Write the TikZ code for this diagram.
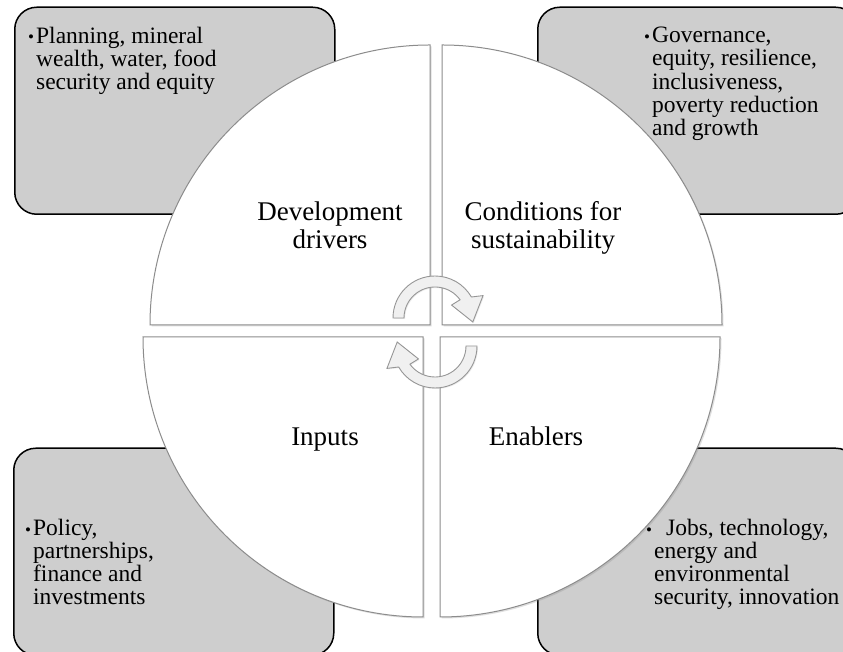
\documentclass[tikz,border=0pt]{standalone}
\usepackage{fontspec}
\setmainfont{Liberation Serif}
\usetikzlibrary{shadows}

\definecolor{boxgray}{RGB}{206,206,206}
\definecolor{quadline}{RGB}{140,140,140}
\definecolor{arrowfill}{RGB}{240,240,240}
\definecolor{arrowline}{RGB}{150,150,150}

\tikzset{
  infobox/.style={draw=black, line width=1.5pt, fill=boxgray, rounded corners=22pt,
    minimum width=320pt, minimum height=207pt, anchor=south west, inner sep=0pt},
  boxtext/.style={anchor=north west, inner sep=0pt, font=\fontsize{23.5}{22.5}\selectfont},
  quadtext/.style={align=center, inner sep=0pt, font=\fontsize{27}{28}\selectfont},
  quadpart/.style={draw=quadline, line width=1pt, fill=white,
    drop shadow={opacity=0.25, shadow xshift=1.5pt, shadow yshift=-1.5pt}},
  cyclepart/.style={draw=arrowline, line width=0.9pt, fill=arrowfill,
    drop shadow={opacity=0.15, shadow xshift=1pt, shadow yshift=-1pt}},
}

\NewDocumentCommand{\quadrant}{mm}{%
\begin{scope}[shift={#1}]%
\path[quadpart] (0,0) -- (#2:280) arc[start angle=#2, end angle=#2+90, radius=280] -- cycle;
\end{scope}%
}
\NewDocumentCommand{\cyclearrow}{mm}{%
\begin{scope}[shift={#1}, rotate=#2]%
\path[cyclepart] (180:42) arc[start angle=180, end angle=30, radius=42]
  -- (25:53) -- (-6:38) -- (38:21) -- (36:31)
  arc[start angle=36, end angle=180, radius=31] -- cycle;
\end{scope}%
}
\NewDocumentCommand{\dotitem}{}{\raisebox{0.5pt}{\fontsize{17}{17}\selectfont\textbullet}}

\begin{document}
\begin{tikzpicture}[x=1pt, y=1pt]
        \fill[white] (0,0) rectangle (843,652);
        \useasboundingbox (0,0) rectangle (843,652);

        % Boxes.
        \node[infobox] (drvbox) at (14,437) {};
        \node[infobox] (condbox) at (537,437) {};
        \node[infobox] (inpbox) at (13,-4) {};
        \node[infobox] (enabbox) at (537,-4) {};

        \node[boxtext] (drvtext) at (28,625) {\begin{tabular}{@{}l@{\hspace{2pt}}l@{}}
          \dotitem & Planning, mineral\\ & wealth, water, food\\ & security and equity\end{tabular}};
        \node[boxtext] (condtext) at (644,625) {\begin{tabular}{@{}l@{\hspace{2pt}}l@{}}
          \dotitem & Governance,\\ & equity, resilience,\\ & inclusiveness,\\
          & poverty reduction\\ & and growth\end{tabular}};
        \node[boxtext] (inptext) at (25,133) {\begin{tabular}{@{}l@{\hspace{2pt}}l@{}}
          \dotitem & Policy,\\ & partnerships,\\ & finance and\\ & investments\end{tabular}};
        \node[boxtext] (enabtext) at (646,133) {\begin{tabular}{@{}l@{\hspace{2pt}}l@{}}
          \dotitem & \hspace{12pt}Jobs, technology,\\ & energy and\\ & environmental\\
          & security, innovation\end{tabular}};

        % Circle.
        \quadrant{(430,327)}{90}
        \quadrant{(442,327)}{0}
        \quadrant{(423,315)}{180}
        \quadrant{(440,315)}{270}

        \node[quadtext] (drivers) at (330,427) {Development\\drivers};
        \node[quadtext] (conditions) at (543,424) {Conditions for\\sustainability};
        \node[quadtext, anchor=base] (inputs) at (325,206) {Inputs};
        \node[quadtext, anchor=base] (enablers) at (536,206) {Enablers};

        % Cycle.
        \cyclearrow{(435,334)}{0}
        \cyclearrow{(435,306)}{180}
    \end{tikzpicture}
\end{document}
